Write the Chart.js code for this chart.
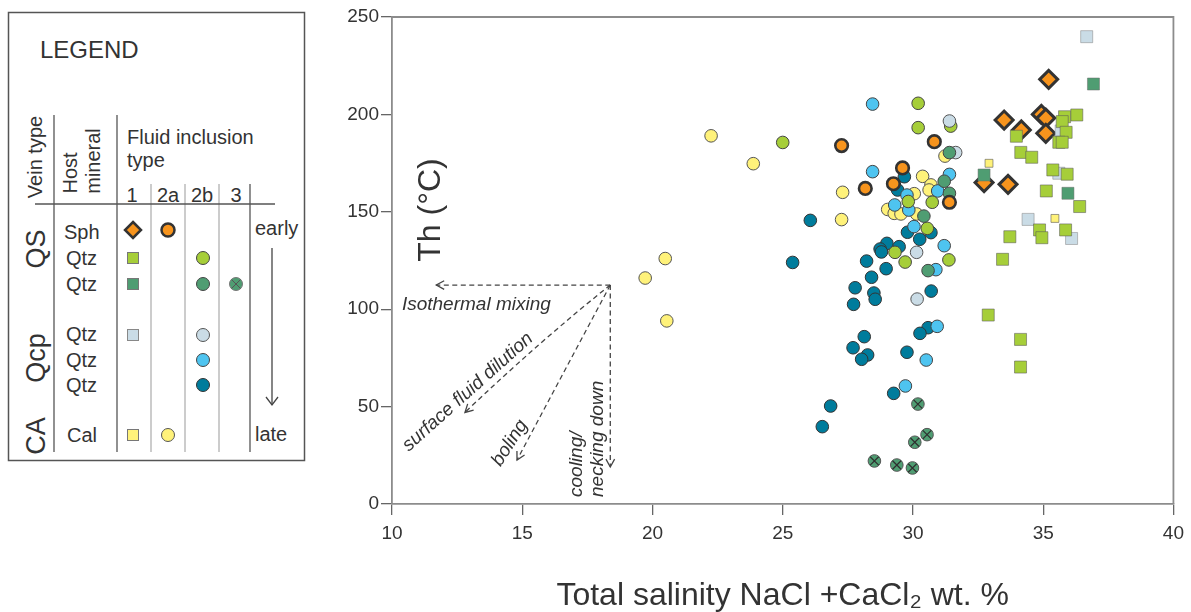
<!DOCTYPE html>
<html>
<head>
<meta charset="utf-8">
<script src="https://cdn.jsdelivr.net/npm/chart.js@4.4.1/dist/chart.umd.min.js"></script>
<style>
  html, body { margin: 0; padding: 0; background: #fff; }
  #wrap { position: relative; width: 1191px; height: 612px; }
  #chart { position: absolute; left: 0; top: 0; }
  #legend { position: absolute; left: 0; top: 0; }
  #legend text { font-family: 'Liberation Sans', Arial, sans-serif; fill: #333; }
</style>
</head>
<body>
<div id="wrap">
  <canvas id="chart" width="1191" height="612"></canvas>
  <!-- legenda kiri, dibuat pakai svg -->
  <svg id="legend" width="320" height="470">
    <rect x="8.5" y="12.5" width="296" height="448" fill="#fff" stroke="#555" stroke-width="1.5"/>
    <text x="40" y="49" font-size="24" dominant-baseline="central">LEGEND</text>

    <line x1="54" y1="115" x2="54" y2="452" stroke="#555" stroke-width="1.3"/>
    <line x1="117" y1="115" x2="117" y2="452" stroke="#555" stroke-width="1.3"/>
    <line x1="151" y1="184" x2="151" y2="452" stroke="#aaa" stroke-width="1.2"/>
    <line x1="185" y1="184" x2="185" y2="452" stroke="#aaa" stroke-width="1.2"/>
    <line x1="219" y1="184" x2="219" y2="452" stroke="#aaa" stroke-width="1.2"/>
    <line x1="250" y1="184" x2="250" y2="452" stroke="#555" stroke-width="1.3"/>
    <line x1="35" y1="204" x2="275" y2="204" stroke="#555" stroke-width="1.3"/>

    <text font-size="20" text-anchor="middle" dominant-baseline="central" transform="translate(35,157) rotate(-90)">Vein type</text>
    <text font-size="20" text-anchor="middle" dominant-baseline="central" transform="translate(70,173) rotate(-90)">Host</text>
    <text font-size="20" text-anchor="middle" dominant-baseline="central" transform="translate(93,161) rotate(-90)">mineral</text>
    <text x="127" y="137" font-size="20" dominant-baseline="central">Fluid inclusion</text>
    <text x="127" y="160" font-size="20" dominant-baseline="central">type</text>
    <text x="132" y="195" font-size="20" text-anchor="middle" dominant-baseline="central">1</text>
    <text x="168" y="195" font-size="20" text-anchor="middle" dominant-baseline="central">2a</text>
    <text x="202" y="195" font-size="20" text-anchor="middle" dominant-baseline="central">2b</text>
    <text x="236" y="195" font-size="20" text-anchor="middle" dominant-baseline="central">3</text>

    <text font-size="27" text-anchor="middle" dominant-baseline="central" transform="translate(36,249) rotate(-90)">QS</text>
    <text font-size="27" text-anchor="middle" dominant-baseline="central" transform="translate(36,358) rotate(-90)">Qcp</text>
    <text font-size="27" text-anchor="middle" dominant-baseline="central" transform="translate(36,436) rotate(-90)">CA</text>

    <text x="64" y="232" font-size="20" dominant-baseline="central">Sph</text>
    <text x="66" y="258" font-size="20" dominant-baseline="central">Qtz</text>
    <text x="66" y="284" font-size="20" dominant-baseline="central">Qtz</text>
    <text x="66" y="334" font-size="20" dominant-baseline="central">Qtz</text>
    <text x="66" y="360" font-size="20" dominant-baseline="central">Qtz</text>
    <text x="66" y="385" font-size="20" dominant-baseline="central">Qtz</text>
    <text x="67" y="435" font-size="20" dominant-baseline="central">Cal</text>

    <text x="255" y="228" font-size="20" dominant-baseline="central">early</text>
    <text x="255" y="434" font-size="20" dominant-baseline="central">late</text>
    <line x1="272" y1="248" x2="272" y2="405" stroke="#444" stroke-width="1.3"/>
    <polyline points="266,397 272,405 278,397" fill="none" stroke="#444" stroke-width="1.3"/>

    <polygon points="133,222 141,230 133,238 125,230" fill="#f7941d" stroke="#333" stroke-width="2.5"/>
    <circle cx="168" cy="230" r="6.5" fill="#f7941d" stroke="#333" stroke-width="2.5"/>
    <rect x="127.5" y="252.5" width="11" height="11" fill="#a6ce39" stroke="#777" stroke-width="1"/>
    <circle cx="203" cy="258" r="6.5" fill="#a6ce39" stroke="#444" stroke-width="1"/>
    <rect x="127.5" y="278.5" width="11" height="11" fill="#4f9d72" stroke="#777" stroke-width="1"/>
    <circle cx="203" cy="284" r="6.5" fill="#4f9d72" stroke="#444" stroke-width="1"/>
    <circle cx="236" cy="284" r="6.5" fill="#4f9d72" stroke="#777" stroke-width="1"/>
    <path d="M231.5,279.5 L240.5,288.5 M240.5,279.5 L231.5,288.5" stroke="#555" stroke-width="1"/>
    <rect x="127.5" y="329.5" width="11" height="11" fill="#cadce6" stroke="#888" stroke-width="1"/>
    <circle cx="203" cy="335" r="6.5" fill="#cadce6" stroke="#555" stroke-width="1"/>
    <circle cx="203" cy="360" r="6.5" fill="#4ec4f0" stroke="#444" stroke-width="1"/>
    <circle cx="203" cy="385" r="6.5" fill="#007c9c" stroke="#333" stroke-width="1"/>
    <rect x="127.5" y="429.5" width="11" height="11" fill="#fff27a" stroke="#777" stroke-width="1"/>
    <circle cx="168" cy="435" r="6.5" fill="#fff27a" stroke="#555" stroke-width="1"/>
  </svg>
</div>

<script>
// Data inklusi fluida: [salinitas wt.%, Th °C]
const xTicks = [10, 15, 20, 25, 30, 35, 40];
const yTicks = [0, 50, 100, 150, 200, 250];

// QS - Sph
const qsSphType1 = [[35.21, 218], [33.5, 197.1], [34.93, 200], [35.1, 198.1], [34.16, 192], [35.1, 190.3], [32.73, 165], [33.65, 164.1]];
const qsSphType2a = [[27.26, 184], [30.82, 186], [29.6, 172.5], [29.25, 164.4], [28.17, 162], [31.4, 154.9]];
// QS - Qtz (hijau muda)
const qsQtzAType1 = [[36.29, 199.7], [35.82, 198.8], [35.73, 196.3], [35.88, 190.8], [33.97, 188.8], [35.6, 185.7], [35.73, 185.7],
  [34.14, 180.5], [34.56, 178], [35.37, 171.5], [35.92, 169.3], [35.12, 160.7], [36.4, 152.7], [34.86, 140.7], [34.95, 136.7],
  [35.86, 140.7], [33.72, 137.2], [33.44, 125.6], [32.89, 97], [34.13, 84.5], [34.13, 70.3]];
const qsQtzAType2b = [[25.0, 185.6], [30.2, 205.7], [31.45, 194], [30.2, 193.2], [30.74, 154.9], [29.82, 155.3], [30.55, 141.5],
  [29.31, 129.2], [31.38, 125.3], [29.7, 124.2]];
// QS - Qtz (hijau tua)
const qsQtzBType1 = [[36.93, 215.6], [32.73, 168.9], [35.95, 159.5]];
const qsQtzBType2b = [[31.4, 180.4], [31.2, 165.7], [31.4, 159.5], [30.42, 147.8], [30.58, 119.8]];
const qsQtzBType3 = [[30.19, 51.3], [30.54, 35.6], [30.07, 31.7], [28.52, 22.1], [29.38, 20], [29.98, 18.5]];
// Qcp - Qtz
const qcpQtzAType1 = [[36.67, 239.9], [35.69, 191.5], [35.6, 169.8], [34.42, 146.1], [36.09, 136.3]];
const qcpQtzAType2b = [[31.4, 196.6], [31.64, 180.4], [30.14, 129.2], [30.16, 105.2]];
const qcpQtzBType2b = [[28.45, 205.3], [28.45, 170.6], [31.4, 169.2], [30.95, 160.7], [29.77, 158.6], [29.3, 153.5], [29.84, 150.9],
  [30.04, 142.4], [31.2, 132.6], [30.88, 120.3], [30.93, 91.2], [30.51, 73.9], [29.71, 60.6]];
const qcpQtzCType2b = [[29.67, 168], [29.41, 161.2], [26.06, 145.6], [25.38, 124], [29.79, 139.5], [30.69, 139.3], [30.26, 135.9],
  [29.0, 133.8], [29.47, 132.1], [28.74, 130.9], [28.79, 129.4], [28.22, 124.7], [28.97, 120.8], [28.41, 116.4], [27.78, 111],
  [28.5, 108.3], [28.55, 105.1], [27.72, 102.5], [30.7, 109.3], [30.58, 90.5], [30.27, 87.6], [28.13, 85.9], [27.7, 80.2],
  [28.26, 76.5], [28.03, 74.3], [29.77, 77.9], [29.26, 56.8], [26.84, 50.3], [26.52, 39.7]];
// CA - Cal
const caCalType1 = [[32.92, 174.9], [35.45, 146.6]];
const caCalType2a = [[22.25, 189], [23.87, 174.7], [27.3, 160], [27.26, 146], [20.49, 126], [19.72, 116], [20.55, 94],
  [31.23, 178.6], [30.37, 168.2], [30.69, 163.8], [30.62, 161.2], [30.05, 159.3], [29.03, 151.2], [29.28, 149.2],
  [29.54, 148.9], [30.14, 148.9]];

// arah evolusi fluida (panah putus-putus)
const arrowOrigin = [18.38, 112.4];
const arrowEnds = {
  isothermal: [11.7, 112.4],
  dilution: [12.8, 47],
  boiling: [14.8, 22.6],
  cooling: [18.38, 19],
};
const dilutionBend = [15.74, 84.4];

const FONT = "'Liberation Sans', Arial, sans-serif";
const TEXT = "#333";

function pts(arr) {
  return arr.map((p) => ({ x: p[0], y: p[1] }));
}

function series(data, style) {
  return Object.assign({ data: pts(data), pointBorderWidth: 1, pointHoverRadius: 0 }, style);
}

const datasets = [
  series(caCalType1, { pointStyle: "rect", pointRadius: 5.6, pointBackgroundColor: "#fff27a", pointBorderColor: "rgba(90,90,90,0.6)" }),
  series(qsQtzBType1, { pointStyle: "rect", pointRadius: 8.5, pointBackgroundColor: "#4f9d72", pointBorderColor: "rgba(110,110,110,0.5)" }),
  series(qsQtzAType1, { pointStyle: "rect", pointRadius: 8.5, pointBackgroundColor: "#a6ce39", pointBorderColor: "rgba(90,90,90,0.55)" }),
  series(qcpQtzAType1, { pointStyle: "rect", pointRadius: 8.5, pointBackgroundColor: "#cadce6", pointBorderColor: "rgba(130,130,130,0.5)" }),
  series(qsSphType1, { pointStyle: "rectRot", pointRadius: 9, pointBackgroundColor: "#f7941d", pointBorderColor: "#333", pointBorderWidth: 3 }),
  series(qsSphType2a, { pointStyle: "circle", pointRadius: 6.3, pointBackgroundColor: "#f7941d", pointBorderColor: "#333", pointBorderWidth: 2.6 }),
  series(qsQtzBType3, { pointStyle: "crossRot", pointRadius: 6, pointBorderColor: "#2f2f2f", pointBorderWidth: 1.2 }),
  series(qsQtzBType3, { pointStyle: "circle", pointRadius: 6.3, pointBackgroundColor: "#4f9d72", pointBorderColor: "#555" }),
  series(qsQtzBType2b, { pointStyle: "circle", pointRadius: 6.3, pointBackgroundColor: "#4f9d72", pointBorderColor: "#444" }),
  series(qcpQtzAType2b, { pointStyle: "circle", pointRadius: 6.3, pointBackgroundColor: "#cadce6", pointBorderColor: "#555" }),
  series(qsQtzAType2b, { pointStyle: "circle", pointRadius: 6.3, pointBackgroundColor: "#a6ce39", pointBorderColor: "#444" }),
  series(qcpQtzBType2b, { pointStyle: "circle", pointRadius: 6.3, pointBackgroundColor: "#4ec4f0", pointBorderColor: "#444" }),
  series(caCalType2a, { pointStyle: "circle", pointRadius: 6.3, pointBackgroundColor: "#fff27a", pointBorderColor: "#555" }),
  series(qcpQtzCType2b, { pointStyle: "circle", pointRadius: 6.3, pointBackgroundColor: "#007c9c", pointBorderColor: "#333" }),
];

function arrowHead(ctx, x, y, angle) {
  const len = 9;
  ctx.save();
  ctx.setLineDash([]);
  ctx.beginPath();
  ctx.moveTo(x - len * Math.cos(angle - 0.5), y - len * Math.sin(angle - 0.5));
  ctx.lineTo(x, y);
  ctx.lineTo(x - len * Math.cos(angle + 0.5), y - len * Math.sin(angle + 0.5));
  ctx.stroke();
  ctx.restore();
}

function rotatedText(ctx, text, x, y, angle, align) {
  ctx.save();
  ctx.translate(x, y);
  ctx.rotate(angle);
  ctx.textAlign = align;
  ctx.textBaseline = "middle";
  ctx.fillText(text, 0, 0);
  ctx.restore();
}

// bingkai plot + panah + label Th
const plotExtras = {
  id: "plotExtras",
  afterDraw(chart) {
    const { ctx, chartArea } = chart;
    const xs = chart.scales.x;
    const ys = chart.scales.y;
    const px = (p) => [xs.getPixelForValue(p[0]), ys.getPixelForValue(p[1])];

    ctx.save();
    ctx.strokeStyle = "#8c8c8c";
    ctx.lineWidth = 1.8;
    ctx.beginPath();
    ctx.moveTo(chartArea.left, chartArea.top);
    ctx.lineTo(chartArea.right, chartArea.top);
    ctx.lineTo(chartArea.right, chartArea.bottom);
    ctx.stroke();

    // panah
    ctx.strokeStyle = "#444";
    ctx.lineWidth = 1.3;
    ctx.setLineDash([5, 3.5]);
    const o = px(arrowOrigin);
    ["isothermal", "boiling", "cooling"].forEach((k) => {
      const e = px(arrowEnds[k]);
      ctx.beginPath();
      ctx.moveTo(o[0], o[1]);
      ctx.lineTo(e[0], e[1]);
      ctx.stroke();
      arrowHead(ctx, e[0], e[1], Math.atan2(e[1] - o[1], e[0] - o[0]));
    });
    const d = px(arrowEnds.dilution);
    const c = px(dilutionBend);
    ctx.beginPath();
    ctx.moveTo(o[0], o[1]);
    ctx.quadraticCurveTo(c[0], c[1], d[0], d[1]);
    ctx.stroke();
    arrowHead(ctx, d[0], d[1], Math.atan2(d[1] - c[1], d[0] - c[0]));
    ctx.setLineDash([]);

    // teks anotasi
    ctx.fillStyle = TEXT;
    ctx.font = "italic 19px " + FONT;
    let p = px([10.38, 102.2]);
    rotatedText(ctx, "Isothermal mixing", p[0], p[1], 0, "left");
    p = px([12.91, 57.5]);
    rotatedText(ctx, "surface fluid dilution", p[0], p[1], -0.73, "center");
    p = px([14.52, 31.3]);
    rotatedText(ctx, "boling", p[0], p[1], -1.0, "center");
    p = px([17.08, 3.6]);
    rotatedText(ctx, "cooling/", p[0], p[1], -Math.PI / 2, "left");
    p = px([17.88, 3.6]);
    rotatedText(ctx, "necking down", p[0], p[1], -Math.PI / 2, "left");

    // judul sumbu y di dalam plot
    ctx.font = "32px " + FONT;
    rotatedText(ctx, "Th (°C)", chartArea.left + 39, chartArea.top + 193, -Math.PI / 2, "center");
    ctx.restore();
  },
};

const ctx = document.getElementById("chart").getContext("2d");
new Chart(ctx, {
  type: "scatter",
  data: { datasets: datasets },
  plugins: [plotExtras],
  options: {
    responsive: false,
    animation: false,
    events: [],
    layout: { padding: { left: 330, top: 17, right: 15, bottom: 0 } },
    plugins: { legend: { display: false }, tooltip: { enabled: false } },
    scales: {
      x: {
        type: "linear",
        min: xTicks[0],
        max: xTicks[xTicks.length - 1],
        afterBuildTicks: (s) => { s.ticks = xTicks.map((v) => ({ value: v })); },
        afterFit: (s) => { s.height = 108; },
        ticks: { color: TEXT, font: { family: FONT, size: 19 }, padding: 7 },
        grid: { drawOnChartArea: false, tickLength: 11, color: "#666", lineWidth: 1.3 },
        border: { color: "#8c8c8c", width: 1.8 },
        title: {
          display: true,
          text: "Total salinity NaCl +CaCl₂ wt. %",
          color: TEXT,
          font: { family: FONT, size: 32, lineHeight: 1 },
          padding: { top: 0, bottom: 0 },
        },
      },
      y: {
        type: "linear",
        min: yTicks[0],
        max: yTicks[yTicks.length - 1],
        afterBuildTicks: (s) => { s.ticks = yTicks.map((v) => ({ value: v })); },
        afterFit: (s) => { s.width = 62; },
        ticks: { color: TEXT, font: { family: FONT, size: 19 }, padding: 2 },
        grid: { drawOnChartArea: false, tickLength: 11, color: "#666", lineWidth: 1.3 },
        border: { color: "#8c8c8c", width: 1.8 },
      },
    },
  },
});
</script>
</body>
</html>
